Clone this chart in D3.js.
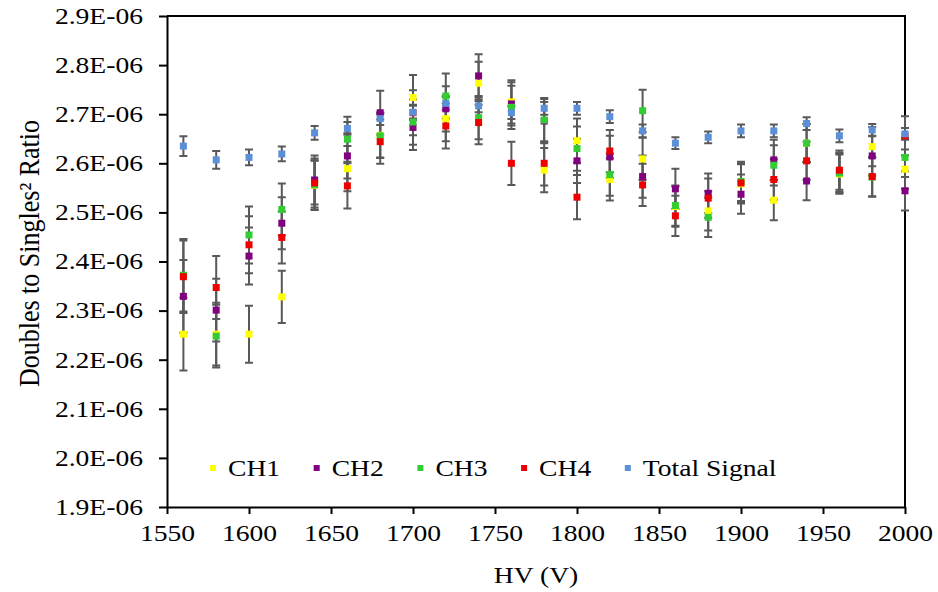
<!DOCTYPE html>
<html>
<head>
<meta charset="utf-8">
<script src="https://cdn.jsdelivr.net/npm/d3@7"></script>
<style>
  body { margin: 0; background: #fff; }
  svg { display: block; font-family: 'Liberation Serif', 'Times New Roman', serif; }
</style>
</head>
<body>
<div class="container"></div>
<script>
// HV settings (V)
const hv = [1560, 1580, 1600, 1620, 1640, 1660, 1680, 1700, 1720, 1740, 1760, 1780,
  1800, 1820, 1840, 1860, 1880, 1900, 1920, 1940, 1960, 1980, 2000]

// ratios, in units of 1E-06
const ch1 = [2.252, 2.252, 2.252, 2.328, 2.555, 2.589, 2.657, 2.734, 2.691, 2.763, 2.725, 2.586,
  2.646, 2.567, 2.609, 2.512, 2.503, 2.558, 2.525, 2.641, 2.578, 2.634, 2.588]
const ch2 = [2.329, 2.301, 2.411, 2.478, 2.566, 2.615, 2.703, 2.673, 2.711, 2.778, 2.721, 2.686,
  2.605, 2.613, 2.573, 2.548, 2.539, 2.537, 2.607, 2.564, 2.582, 2.615, 2.544]
const ch3 = [2.372, 2.248, 2.454, 2.506, 2.556, 2.649, 2.656, 2.684, 2.737, 2.693, 2.714, 2.688,
  2.630, 2.577, 2.707, 2.514, 2.490, 2.563, 2.596, 2.641, 2.580, 2.572, 2.612]
const ch4 = [2.369, 2.347, 2.434, 2.449, 2.560, 2.554, 2.644, 2.703, 2.676, 2.683, 2.600, 2.600,
  2.531, 2.625, 2.556, 2.493, 2.529, 2.560, 2.567, 2.605, 2.586, 2.573, 2.656]
const total = [2.635, 2.607, 2.612, 2.619, 2.662, 2.671, 2.691, 2.704, 2.722, 2.717, 2.703, 2.712,
  2.712, 2.695, 2.666, 2.641, 2.653, 2.666, 2.666, 2.681, 2.656, 2.668, 2.660]

// error bar half-widths, same units
const chErr = [0.074, 0.064, 0.058, 0.053, 0.050, 0.046, 0.045, 0.046, 0.046, 0.044, 0.044, 0.045,
  0.045, 0.043, 0.043, 0.041, 0.040, 0.040, 0.041, 0.039, 0.040, 0.040, 0.040]
const totalErr = [0.020, 0.018, 0.016, 0.015, 0.014, 0.013, 0.013, 0.013, 0.013, 0.013, 0.013, 0.013,
  0.013, 0.013, 0.013, 0.012, 0.012, 0.013, 0.013, 0.013, 0.013, 0.012, 0.012]

const seriesNames = ['CH1', 'CH2', 'CH3', 'CH4', 'Total Signal']
const xTicks = [1550, 1600, 1650, 1700, 1750, 1800, 1850, 1900, 1950, 2000]
const yTicks = [1.9, 2.0, 2.1, 2.2, 2.3, 2.4, 2.5, 2.6, 2.7, 2.8, 2.9]

const colors = ['#ffff00', '#800080', '#33cc33', '#ee0000', '#5b8fd8']
const series = [
  { name: seriesNames[0], values: ch1, err: chErr },
  { name: seriesNames[1], values: ch2, err: chErr },
  { name: seriesNames[2], values: ch3, err: chErr },
  { name: seriesNames[3], values: ch4, err: chErr },
  { name: seriesNames[4], values: total, err: totalErr },
]

const W = 938
const H = 592
const margin = { top: 16, right: 33, bottom: 85, left: 167 }
const width = W - margin.left - margin.right
const height = H - margin.top - margin.bottom
const SX = 1.2 // the source text is drawn a bit wide
const fontSize = 23

const svg = d3.select('.container')
  .append('svg')
  .attr('width', W)
  .attr('height', H)

svg.append('rect').attr('width', W).attr('height', H).attr('fill', '#fff')

const g = svg.append('g')
  .attr('transform', `translate(${margin.left},${margin.top})`)

const x = d3.scaleLinear().domain([1550, 2000]).range([0, width])
const y = d3.scaleLinear().domain([1.9, 2.9]).range([height, 0])

function stretch(sel) {
  sel.each(function () {
    const t = d3.select(this)
    const tx = +t.attr('x') || 0
    const ty = +t.attr('y') || 0
    t.attr('x', 0).attr('y', 0)
      .attr('transform', `translate(${tx},${ty}) scale(${SX},1)`)
  })
}

// frame top / right
g.append('path')
  .attr('d', `M0,0H${width}V${height}`)
  .attr('fill', 'none')
  .attr('stroke', '#000')
  .attr('stroke-width', 2)

const xAxis = g.append('g')
  .attr('transform', `translate(0,${height})`)
  .call(d3.axisBottom(x).tickValues(xTicks).tickSize(7).tickPadding(11).tickSizeOuter(0)
    .tickFormat(d3.format('d')))
const yAxis = g.append('g')
  .call(d3.axisLeft(y).tickValues(yTicks).tickSize(8).tickPadding(16).tickSizeOuter(0)
    .tickFormat((d) => d.toFixed(1) + 'E-06'))

;[xAxis, yAxis].forEach((ax) => {
  ax.select('.domain').attr('stroke', '#000').attr('stroke-width', 2)
  ax.selectAll('.tick line').attr('stroke', '#000').attr('stroke-width', 2)
  ax.selectAll('text')
    .attr('font-family', 'Liberation Serif')
    .attr('font-size', fontSize)
    .attr('fill', '#000')
  stretch(ax.selectAll('text'))
})

// error bars
const capW = 8
series.forEach((s) => {
  const eb = g.append('g')
    .attr('stroke', '#595959')
    .attr('stroke-width', 2)
    .attr('fill', 'none')
  eb.selectAll('path')
    .data(hv.map((h, i) => ({ h, v: s.values[i], e: s.err[i] })))
    .enter()
    .append('path')
    .attr('d', (d) => {
      const cx = x(d.h)
      const y1 = y(d.v + d.e)
      const y0 = y(d.v - d.e)
      return `M${cx},${y1}V${y0}M${cx - capW / 2},${y1}H${cx + capW / 2}M${cx - capW / 2},${y0}H${cx + capW / 2}`
    })
})

// markers
const ms = 7
series.forEach((s, k) => {
  g.append('g')
    .selectAll('rect')
    .data(hv.map((h, i) => ({ h, v: s.values[i] })))
    .enter()
    .append('rect')
    .attr('x', (d) => x(d.h) - ms / 2)
    .attr('y', (d) => y(d.v) - ms / 2)
    .attr('width', ms)
    .attr('height', ms)
    .attr('fill', colors[k])
})

// legend
const legend = svg.append('g').attr('transform', 'translate(213,468)')
series.forEach((s, k) => {
  const item = legend.append('g').attr('transform', `translate(${k * 103.7},0)`)
  item.append('rect')
    .attr('x', -3).attr('y', -3)
    .attr('width', 6).attr('height', 6)
    .attr('fill', colors[k])
  item.append('text')
    .attr('x', 15)
    .attr('y', 8)
    .attr('font-size', fontSize)
    .attr('fill', '#000')
    .text(s.name)
})
stretch(legend.selectAll('text'))

// axis titles
svg.append('text')
  .attr('text-anchor', 'middle')
  .attr('font-size', fontSize)
  .attr('transform', `translate(${margin.left + width / 2},583) scale(${SX},1)`)
  .text('HV (V)')

svg.append('text')
  .attr('text-anchor', 'middle')
  .attr('font-size', 26)
  .attr('transform', `translate(39,${margin.top + height / 2 - 8}) rotate(-90) scale(1,1.1)`)
  .text('Doubles to Singles² Ratio')
</script>
</body>
</html>
